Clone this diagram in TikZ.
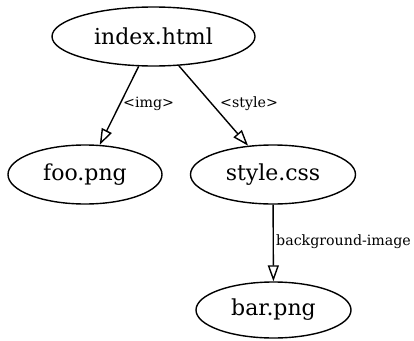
\documentclass[tikz,border=0pt]{standalone}
\usepackage{fontspec}
\setmainfont{DejaVu Serif}
\usetikzlibrary{shapes.geometric,arrows.meta}
\begin{document}
\begin{tikzpicture}[x=1pt,y=-1pt,
  file/.style={draw, ellipse, line width=1.4pt, inner sep=0pt, font=\fontsize{22}{26}\selectfont},
  edge/.style={draw, line width=1.4pt, -{Triangle[open, length=16pt, width=11pt, line width=1.4pt]}},
  lbl/.style={font=\fontsize{14.2}{17}\selectfont, inner sep=0pt, anchor=west}]
\useasboundingbox (0,0) rectangle (414,340);
\node[file, minimum width=203pt, minimum height=59pt] (idx) at (153.5,36.5) {index.html};
\node[file, minimum width=154pt, minimum height=59pt] (foo) at (85,174.5) {foo.png};
\node[file, minimum width=165pt, minimum height=59pt] (css) at (273,174.5) {style.css};
\node[file, minimum width=155pt, minimum height=56pt] (bar) at (273.5,310) {bar.png};
\draw[edge] (idx) -- (foo);
\draw[edge] (idx) -- (css);
\draw[edge] (css) -- (bar);
\node[lbl] (limg) at (123,104) {<img>};
\node[lbl] (lsty) at (220,104) {<style>};
\node[lbl] (lbg) at (276,242) {background-image};
\end{tikzpicture}
\end{document}
